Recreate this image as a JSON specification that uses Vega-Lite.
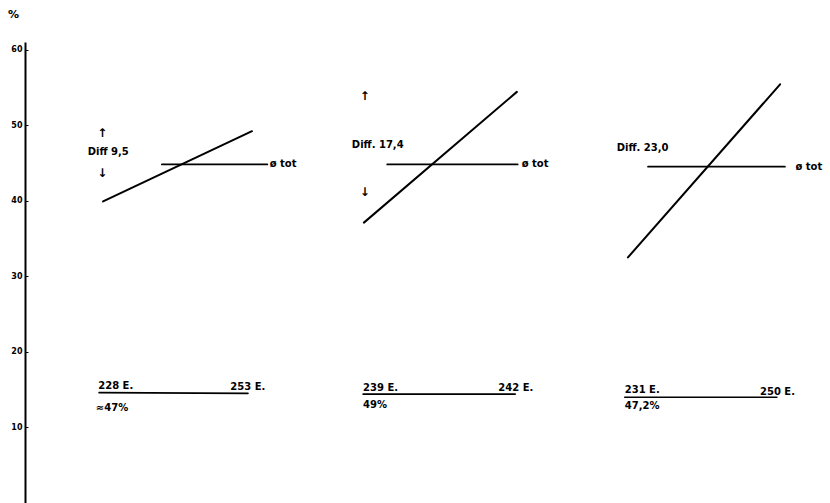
{
  "$schema": "https://vega.github.io/schema/vega-lite/v6.json",
  "autosize": {"type": "none"},
  "padding": {"left": 25, "top": 42, "right": 0, "bottom": 0},
  "width": 805,
  "height": 461,
  "background": "white",
  "config": {"view": {"stroke": null}},
  "datasets": {
    "segments": [
      {"panel": 1, "kind": "trend", "x1": 9.7, "y1": 39.9, "x2": 28.2, "y2": 49.2},
      {"panel": 1, "kind": "avg", "x1": 17.0, "y1": 44.8, "x2": 30.1, "y2": 44.8},
      {"panel": 1, "kind": "base", "x1": 9.2, "y1": 14.6, "x2": 27.7, "y2": 14.5},
      {"panel": 2, "kind": "trend", "x1": 42.1, "y1": 37.1, "x2": 61.1, "y2": 54.4},
      {"panel": 2, "kind": "avg", "x1": 45.0, "y1": 44.8, "x2": 61.2, "y2": 44.8},
      {"panel": 2, "kind": "base", "x1": 42.0, "y1": 14.4, "x2": 60.9, "y2": 14.4},
      {"panel": 3, "kind": "trend", "x1": 74.9, "y1": 32.5, "x2": 93.8, "y2": 55.4},
      {"panel": 3, "kind": "avg", "x1": 77.4, "y1": 44.5, "x2": 94.4, "y2": 44.5},
      {"panel": 3, "kind": "base", "x1": 74.5, "y1": 14.0, "x2": 93.4, "y2": 14.0}
    ],
    "arrows": [
      {"text": "↑", "x": 9.6, "y": 49.0},
      {"text": "↓", "x": 9.6, "y": 43.7},
      {"text": "↑", "x": 42.2, "y": 53.8},
      {"text": "↓", "x": 42.2, "y": 41.1}
    ],
    "labels": [
      {"text": "Diff 9,5", "x": 7.8, "y": 46.4},
      {"text": "ø tot", "x": 30.4, "y": 44.8},
      {"text": "228 E.", "x": 9.1, "y": 15.5},
      {"text": "253 E.", "x": 25.5, "y": 15.4},
      {"text": "≈47%", "x": 8.8, "y": 12.6},
      {"text": "Diff. 17,4", "x": 40.6, "y": 47.4},
      {"text": "ø tot", "x": 61.7, "y": 44.8},
      {"text": "239 E.", "x": 42.0, "y": 15.2},
      {"text": "242 E.", "x": 58.8, "y": 15.2},
      {"text": "49%", "x": 42.0, "y": 13.0},
      {"text": "Diff. 23,0", "x": 73.5, "y": 47.0},
      {"text": "ø tot", "x": 95.7, "y": 44.5},
      {"text": "231 E.", "x": 74.5, "y": 15.0},
      {"text": "250 E.", "x": 91.3, "y": 14.7},
      {"text": "47,2%", "x": 74.5, "y": 12.8}
    ]
  },
  "layer": [
    {
      "data": {"name": "segments"},
      "mark": {"type": "rule", "color": "black", "strokeCap": "round"},
      "encoding": {
        "x": {"field": "x1", "type": "quantitative", "scale": {"domain": [0, 100]}, "axis": null},
        "x2": {"field": "x2"},
        "y": {
          "field": "y1", "type": "quantitative",
          "scale": {"domain": [0, 61], "nice": false},
          "axis": {
            "title": "%", "titleAngle": 0, "titleX": -12, "titleY": -23,
            "titleFont": "DejaVu Sans", "titleFontSize": 11, "titleFontWeight": "bold", "titleColor": "black",
            "values": [10, 20, 30, 40, 50, 60],
            "grid": false, "domainColor": "black", "domainWidth": 2,
            "tickColor": "black", "tickSize": -3, "tickWidth": 1,
            "labelFont": "DejaVu Sans", "labelFontSize": 8, "labelFontWeight": "bold",
            "labelColor": "black", "labelPadding": 6
          }
        },
        "y2": {"field": "y2"},
        "strokeWidth": {
          "field": "kind", "type": "nominal",
          "scale": {"domain": ["trend", "avg", "base"], "range": [2, 1.6, 1.6]},
          "legend": null
        }
      }
    },
    {
      "data": {"name": "arrows"},
      "mark": {"type": "text", "font": "DejaVu Sans", "fontSize": 12, "fontWeight": "bold", "color": "black", "baseline": "middle", "align": "center"},
      "encoding": {
        "x": {"field": "x", "type": "quantitative"},
        "y": {"field": "y", "type": "quantitative"},
        "text": {"field": "text"}
      }
    },
    {
      "data": {"name": "labels"},
      "mark": {"type": "text", "font": "DejaVu Sans", "fontSize": 10, "fontWeight": "bold", "color": "black", "baseline": "middle", "align": "left"},
      "encoding": {
        "x": {"field": "x", "type": "quantitative"},
        "y": {"field": "y", "type": "quantitative"},
        "text": {"field": "text"}
      }
    }
  ]
}
